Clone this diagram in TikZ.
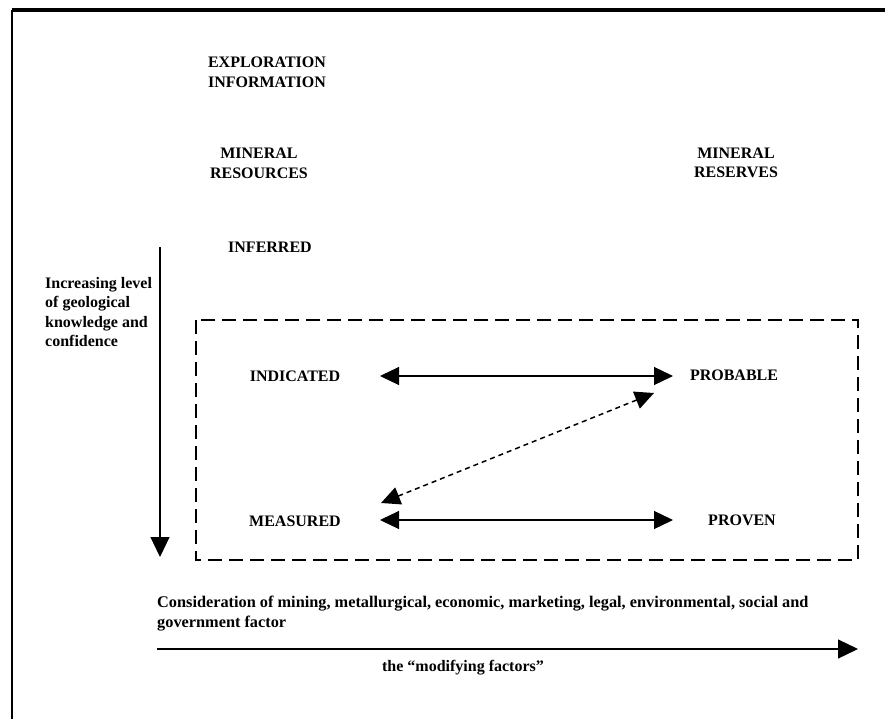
\documentclass[tikz,border=0pt]{standalone}
\usepackage{fontspec}
\setmainfont{Liberation Serif}
\usetikzlibrary{arrows.meta}
\begin{document}
\begin{tikzpicture}[x=1pt,y=-1pt,
  lbl/.style={font=\fontsize{16}{19.5}\selectfont\bfseries, inner sep=0pt, align=center},
  lbll/.style={font=\fontsize{16}{19.5}\selectfont\bfseries, inner sep=0pt, align=left},
  onehead/.style={-{Triangle[length=20pt,width=19pt]}, line width=1.2pt},
  twohead/.style={{Triangle[length=19pt,width=18pt]}-{Triangle[length=19pt,width=18pt]}, line width=1.2pt},
  dashbox/.style={line width=2pt, dash pattern=on 14pt off 7pt},
  diag/.style={{Triangle[length=19pt,width=18pt]}-{Triangle[length=19pt,width=18pt]}, line width=1.5pt, dash pattern=on 5pt off 4pt},
  frameleft/.style={line width=2.5pt},
  frametop/.style={line width=3.5pt}]
\useasboundingbox (0,0) rectangle (885,719);
% frame (top and left edges)
\coordinate (fA) at (12,719);
\coordinate (fB) at (12,10);
\coordinate (fC) at (885,10);
\draw[frameleft] (fA) -- (fB);
\draw[frametop] (fB) -- (fC);

% headings
\node[lbl] (expl) at (267,72.5) {EXPLORATION\\INFORMATION};
\node[lbl] (mres) at (259,163.5) {MINERAL\\RESOURCES};
\node[lbl] (mresv) at (736,163) {MINERAL\\RESERVES};
\node[lbl] (inf) at (270,247) {INFERRED};

% left axis
\node[lbll, anchor=west] (know) at (45,312) {Increasing level\\of geological\\knowledge and\\confidence};
\coordinate (vtop) at (160,247);
\coordinate (vbot) at (160,557);
\draw[onehead] (vtop) -- (vbot);

% dashed box
\draw[dashbox] (196,320) rectangle (858,560);

% categories
\node[lbl] (ind) at (295,376) {INDICATED};
\node[lbl] (prob) at (734,375) {PROBABLE};
\node[lbl] (meas) at (295,521) {MEASURED};
\node[lbl] (prov) at (742,520) {PROVEN};

\coordinate (indR) at (380,376);
\coordinate (probL) at (673,376);
\coordinate (measR) at (380,520);
\coordinate (provL) at (673,520);
\coordinate (dLo) at (381,503);
\coordinate (dHi) at (654,393);
\draw[twohead] (indR) -- (probL);
\draw[twohead] (measR) -- (provL);
\draw[diag] (dLo) -- (dHi);

% modifying factors
\node[lbll, font=\fontsize{16.3}{19.5}\selectfont\bfseries, anchor=north west] (cons) at (157,596) {Consideration of mining, metallurgical, economic, marketing, legal, environmental, social and\\government factor};
\coordinate (hL) at (157,649);
\coordinate (hR) at (858,649);
\draw[onehead] (hL) -- (hR);
\node[lbl] (mod) at (463,668) {the \textquotedblleft modifying factors\textquotedblright};
\end{tikzpicture}
\end{document}
